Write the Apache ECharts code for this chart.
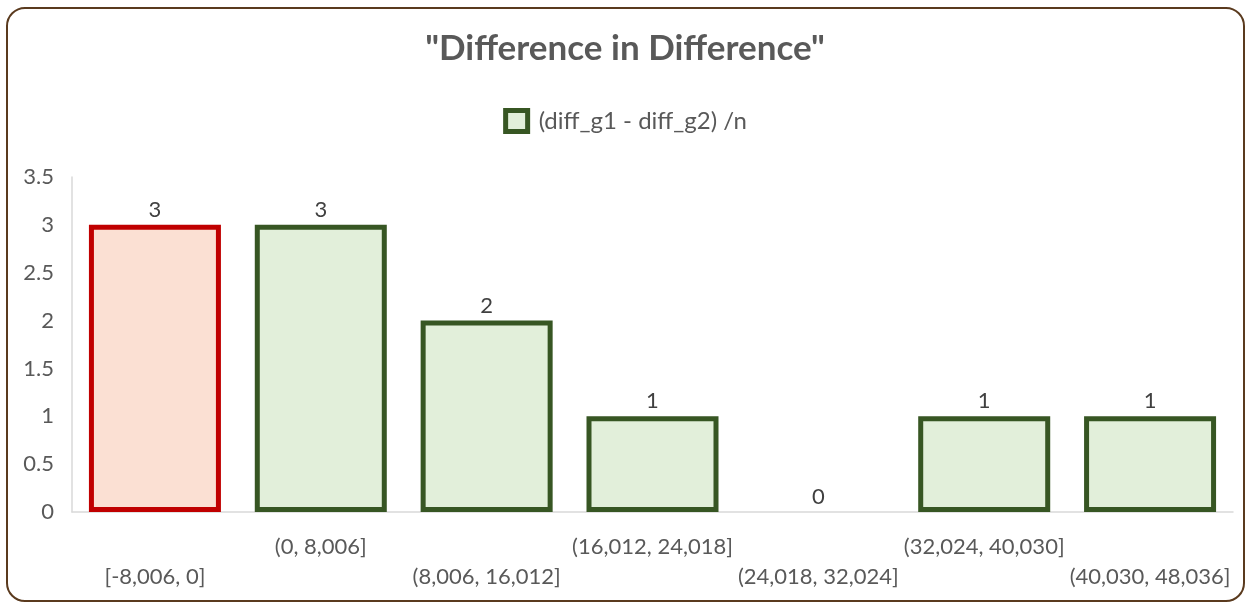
<!DOCTYPE html>
<html>
<head>
<meta charset="utf-8">
<script src="https://cdn.jsdelivr.net/npm/echarts@6/dist/echarts.min.js"></script>
<style>
html,body{margin:0;padding:0;background:#fff;}
#chart{width:1250px;height:603px;}
</style>
</head>
<body>
<div id="chart"></div>
<script>
const categories = ['[-8,006, 0]', '(0, 8,006]', '(8,006, 16,012]', '(16,012, 24,018]', '(24,018, 32,024]', '(32,024, 40,030]', '(40,030, 48,036]'];
const values = [3, 3, 2, 1, 0, 1, 1];
const seriesName = '(diff_g1 - diff_g2) /n';
const titleText = '"Difference in Difference"';

const FONT = 'Lato, "Noto Sans", sans-serif';
const chart = echarts.init(document.getElementById('chart'));

const data = values.map((v, i) => {
  const d = { value: v };
  if (i === 0) {
    d.itemStyle = { color: '#FBE0D3', borderColor: '#C00000' };
  }
  if (v === 0) {
    d.itemStyle = { borderWidth: 0, color: 'rgba(0,0,0,0)' };
  }
  return d;
});

chart.setOption({
  animation: false,
  backgroundColor: '#fff',
  graphic: [{
    type: 'rect',
    shape: { x: 7, y: 8, width: 1237, height: 593, r: 18 },
    style: { fill: 'none', stroke: '#5a3a1e', lineWidth: 2 },
    z: 100
  }],
  title: {
    text: titleText,
    left: 'center',
    top: 26,
    textStyle: { fontFamily: FONT, fontSize: 35, fontWeight: 'bold', color: '#595959' }
  },
  legend: {
    top: 103,
    left: 'center',
    itemWidth: 22,
    itemHeight: 21,
    itemGap: 10,
    icon: 'rect',
    itemStyle: { borderWidth: 5, borderColor: '#375623', color: '#E2EFDA' },
    textStyle: { fontFamily: FONT, fontSize: 24, color: '#595959', padding: [0, 0, 0, 6] },
    data: [seriesName]
  },
  grid: { left: 72, right: 17, top: 177, bottom: 91, containLabel: false },
  xAxis: {
    type: 'category',
    data: categories,
    axisLine: { show: true, lineStyle: { color: '#d9d9d9', width: 1.5 } },
    axisTick: { show: false },
    axisLabel: {
      interval: 0,
      hideOverlap: false,
      margin: 20,
      fontFamily: FONT,
      fontSize: 22,
      lineHeight: 30,
      color: '#595959',
      formatter: (v, i) => (i % 2 === 0 ? '\n' + v : v)
    }
  },
  yAxis: {
    type: 'value',
    min: 0,
    max: 3.5,
    interval: 0.5,
    axisLine: { show: true, lineStyle: { color: '#d9d9d9', width: 1.5 } },
    axisTick: { show: false },
    splitLine: { show: false },
    axisLabel: { margin: 18, fontFamily: FONT, fontSize: 22, color: '#595959' }
  },
  series: [{
    name: seriesName,
    type: 'bar',
    data: data,
    barWidth: 132,
    itemStyle: { color: '#E2EFDA', borderColor: '#375623', borderWidth: 5, borderJoin: 'miter' },
    label: {
      show: true,
      position: 'top',
      distance: 4,
      fontFamily: FONT,
      fontSize: 22,
      color: '#404040'
    }
  }]
});
</script>
</body>
</html>
